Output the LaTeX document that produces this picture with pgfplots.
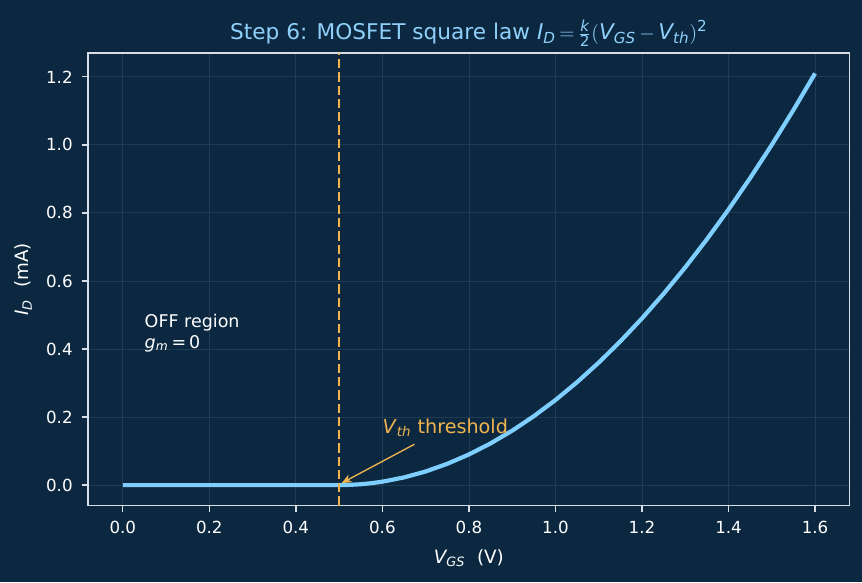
\documentclass[border=0pt]{standalone}
\usepackage{amsmath}
\usepackage{pgfplots}
\pgfplotsset{compat=1.18}
\usetikzlibrary{arrows.meta}
\usepackage{fontspec}
\setmainfont{DejaVu Sans}
\definecolor{bg}{RGB}{12,40,64}
\definecolor{curve}{RGB}{126,207,255}
\definecolor{ttl}{RGB}{142,208,250}
\definecolor{org}{RGB}{240,180,80}
\definecolor{frame}{RGB}{215,222,230}
\definecolor{gridc}{RGB}{32,60,84}
\newcommand\mi[1]{\textit{#1}}
\begin{document}
\begin{tikzpicture}
\path[fill=bg, use as bounding box] (0,0) rectangle (517.2pt,349.2pt);
\begin{axis}[
  at={(52.9pt,45.8pt)}, anchor=south west,
  scale only axis, width=456.9pt, height=271.7pt,
  xmin=-0.08, xmax=1.68, ymin=-0.0605, ymax=1.2705,
  axis line style={frame, line width=0.8pt},
  xtick={0,0.2,...,1.6}, ytick={0,0.2,...,1.2},
  tick align=outside, tick pos=left,
  major tick length=3.5pt,
  every tick/.style={frame, line width=0.8pt},
  ticklabel style={font=\fontsize{10}{12}\selectfont, text=white},
  xticklabel style={yshift=-2.3pt},
  yticklabel style={xshift=-2.3pt},
  /pgf/number format/assume math mode=true,
  /pgf/number format/.cd, fixed, fixed zerofill, precision=1, /pgfplots/.cd,
  grid=major, major grid style={gridc, line width=0.5pt},
  axis background/.style={fill=bg},
  clip=false,
]
\addplot[curve, line width=2.5pt, line join=round] coordinates {
(0,0) (0.05,0) (0.1,0) (0.15,0) (0.2,0) (0.25,0) (0.3,0) (0.35,0) (0.4,0) (0.45,0) (0.5,0)
(0.525,0.000625) (0.55,0.0025) (0.575,0.005625) (0.6,0.01) (0.65,0.0225) (0.7,0.04) (0.75,0.0625) (0.8,0.09)
(0.85,0.1225) (0.9,0.16) (0.95,0.2025) (1.0,0.25) (1.05,0.3025) (1.1,0.36)
(1.15,0.4225) (1.2,0.49) (1.25,0.5625) (1.3,0.64) (1.35,0.7225) (1.4,0.81)
(1.45,0.9025) (1.5,1.0) (1.55,1.1025) (1.6,1.21)};
\addplot[org, line width=1.5pt, dash pattern=on 5.55pt off 2.4pt] coordinates {(0.5,-0.0605) (0.5,1.2705)};
\draw[org, line width=0.8pt, -{Stealth[length=6pt,width=5pt]}] (axis cs:0.674,0.12) -- (axis cs:0.506,0.006);
\node[anchor=base west, text=org, font=\fontsize{11.5}{13}\selectfont, inner sep=0pt] at (axis cs:0.6,0.153) {\mi{V}\textsubscript{\mi{th}} threshold};
\node[anchor=base west, text=white, font=\fontsize{10.5}{12}\selectfont, inner sep=0pt] at (axis cs:0.05,0.4643) {OFF region};
\node[anchor=base west, text=white, font=\fontsize{10.5}{12}\selectfont, inner sep=0pt] at (axis cs:0.05,0.4026) {\mi{g}\textsubscript{\mi{m}}\,=\,0};
\node[anchor=base, text=ttl, font=\fontsize{13}{15}\selectfont] at (rel axis cs:0.5,1.03) {Step 6: MOSFET square law $\mi{I}_{\mi{D}}\,{=}\,\frac{\mi{k}}{\text{2}}(\mi{V}_{\mi{GS}}\,{-}\,\mi{V}_{\mi{th}})^{\text{2}}$};
\node[anchor=base, text=white, font=\fontsize{11}{13}\selectfont] at (rel axis cs:0.5,-0.127) {$\mi{V}_{\mi{GS}}$\ \ (V)};
\node[text=white, font=\fontsize{11}{13}\selectfont, rotate=90] at (rel axis cs:-0.085,0.5) {$\mi{I}_{\mi{D}}$\ \ (mA)};
\end{axis}
\end{tikzpicture}
\end{document}
